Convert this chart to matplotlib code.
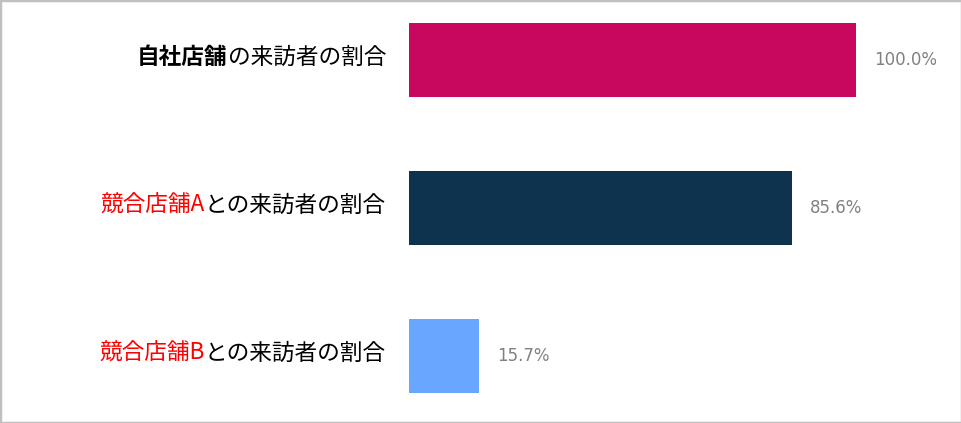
import matplotlib.pyplot as plt
from matplotlib.patches import Rectangle

plt.rcParams['font.family'] = ['Noto Sans CJK JP', 'DejaVu Sans']

# 系列データ
label_heads = ['自社店舗', '競合店舗A', '競合店舗B']
label_tails = ['の来訪者の割合', 'との来訪者の割合', 'との来訪者の割合']
head_colors = ['black', '#ff0000', '#ff0000']
head_weights = ['bold', 'normal', 'normal']
values = [100.0, 85.6, 15.7]
bar_colors = ['#c8075f', '#0e334f', '#68a6ff']

fig = plt.figure(figsize=(9.62, 4.23), dpi=100)
ax = fig.add_axes([409 / 962, 0, 1 - 409 / 962, 1])

ypos = list(range(len(values)))
ax.barh(ypos, values, height=0.5, color=bar_colors)
ax.set_xlim(0, 100 * 553 / 447)
ax.set_ylim(423 / 148 - 60 / 148, -60 / 148)
ax.axis('off')

for y, v in zip(ypos, values):
    ax.annotate(f'{v:.1f}%', xy=(v, y), xytext=(18, 0), textcoords='offset pixels',
                ha='left', va='center', fontsize=12, color='#808080',
                family=['DejaVu Sans'])

# ラベル（色・太さが部分ごとに違うので二つに分けて描く）
for y, head, tail, hc, hw in zip(ypos, label_heads, label_tails, head_colors, head_weights):
    t = ax.annotate(tail, xy=(0, y), xytext=(-23, 3), textcoords='offset pixels',
                    ha='right', va='center', fontsize=16.3, color='black')
    ax.annotate(head, xy=(0, 0.5), xycoords=t, ha='right', va='center',
                fontsize=16.3, color=hc, fontweight=hw)

fig.patches.append(Rectangle((0, 0), 1, 1, transform=fig.transFigure,
                             fill=False, edgecolor='#c0c0c0', linewidth=2.5))

fig.savefig('out.png', dpi=100)
